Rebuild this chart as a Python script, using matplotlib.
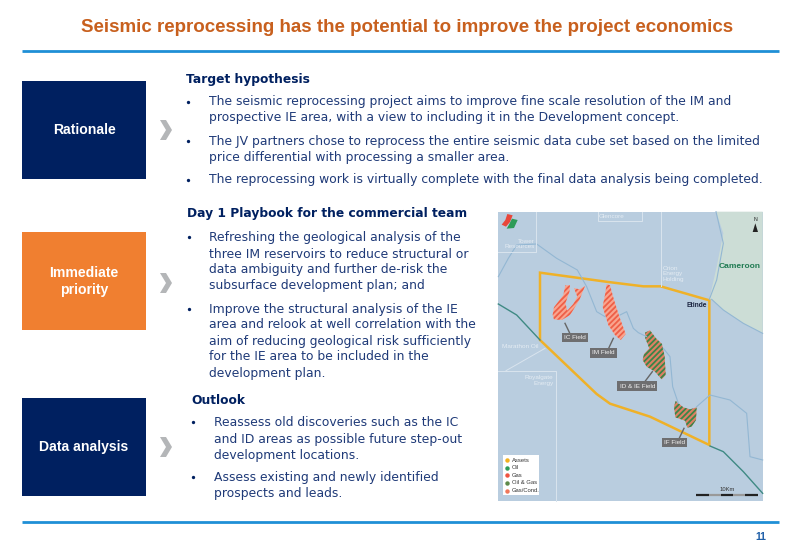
import matplotlib
matplotlib.use("Agg")
import matplotlib.pyplot as plt
from matplotlib.patches import Rectangle, Polygon

TITLE = "Seismic reprocessing has the potential to improve the project economics"
NAVY = "#002060"; ORANGE = "#F07F30"; TXT = "#1F3A78"; BLUE = "#1F8FD6"
boxes = [("Rationale", 22, 81, 124, 98, NAVY), ("Immediate\npriority", 22, 232, 124, 98, ORANGE),
         ("Data analysis", 22, 398, 124, 98, NAVY)]
headings = [("Target hypothesis", 186, 80), ("Day 1 Playbook for the commercial team", 187, 214), ("Outlook", 191, 400)]
bullets = [
    (186, 209, 102, "The seismic reprocessing project aims to improve fine scale resolution of the IM and"),
    (None, 209, 118, "prospective IE area, with a view to including it in the Development concept."),
    (186, 209, 141, "The JV partners chose to reprocess the entire seismic data cube set based on the limited"),
    (None, 209, 157, "price differential with processing a smaller area."),
    (186, 209, 180, "The reprocessing work is virtually complete with the final data analysis being completed."),
    (187, 209, 237, "Refreshing the geological analysis of the"),
    (None, 209, 254, "three IM reservoirs to reduce structural or"),
    (None, 209, 270, "data ambiguity and further de-risk the"),
    (None, 209, 286, "subsurface development plan; and"),
    (187, 209, 309, "Improve the structural analysis of the IE"),
    (None, 209, 325, "area and relook at well correlation with the"),
    (None, 209, 341, "aim of reducing geological risk sufficiently"),
    (None, 209, 357, "for the IE area to be included in the"),
    (None, 209, 373, "development plan."),
    (191, 214, 422, "Reassess old discoveries such as the IC"),
    (None, 214, 439, "and ID areas as possible future step-out"),
    (None, 214, 455, "development locations."),
    (191, 214, 477, "Assess existing and newly identified"),
    (None, 214, 494, "prospects and leads."),
]
chevron_y = [130, 283, 447]

# map shapes, in coordinates of the map picture
block = [(150, 218), (355, 246), (460, 259), (512, 259), (658, 301), (658, 735), (480, 650), (360, 611), (320, 582), (150, 420)]
ic_field = [(188, 345), (192, 322), (220, 285), (226, 256), (240, 256), (238, 276), (226, 310), (232, 332), (250, 312), (262, 290), (252, 264), (268, 268), (285, 258), (268, 300), (240, 345), (215, 360), (192, 358)]
im_field = [(350, 252), (360, 256), (372, 300), (388, 350), (407, 402), (392, 420), (375, 405), (355, 375), (338, 320), (345, 285)]
id_field = [(465, 398), (480, 391), (498, 415), (516, 432), (524, 470), (527, 525), (515, 538), (495, 515), (470, 500), (458, 480), (462, 462), (478, 445), (466, 415)]
if_field = [(552, 620), (557, 603), (580, 622), (600, 628), (620, 622), (618, 660), (605, 680), (592, 683), (585, 662), (556, 652)]
rivers = [
    [(25, 230), (55, 175), (80, 135), (140, 132), (200, 175), (262, 210), (290, 260), (320, 335), (345, 350)],
    [(390, 345), (410, 335), (430, 385), (445, 398), (470, 410)],
    [(520, 445), (540, 470), (548, 560), (565, 610)],
    [(620, 620), (660, 585), (720, 600), (770, 640), (780, 770), (818, 780)],
    [(658, 298), (680, 240), (700, 130), (678, 35)],
    [(665, 298), (700, 330), (760, 370), (818, 400)],
]
green_lines = [[(25, 312), (80, 345), (150, 420)], [(660, 738), (700, 755), (760, 815), (818, 880)]]
white_lines = [
    [(24, 157), (139, 157), (139, 35)], [(323, 35), (323, 64), (457, 64), (457, 35)],
    [(512, 35), (512, 259)], [(24, 512), (197, 512), (197, 902)], [(48, 512), (165, 445)],
]
map_labels = [("Glencore", 365, 50, "center"), ("Tower\nResources", 134, 132, "right"), ("Orion\nEnergy\nHolding", 517, 221, "left"),
              ("Marathon Oil", 145, 440, "right"), ("Royalgate\nEnergy", 190, 541, "right")]
field_tags = [("IC Field", 254, 413, 225, 370), ("IM Field", 341, 459, 370, 415), ("ID & IE Field", 442, 558, 487, 515), ("IF Field", 554, 727, 582, 685)]
legend_names = ["Assets", "Oil", "Gas", "Oil & Gas", "Gas/Cond."]
legend_colors = ["#F2B01E", "#2E9B57", "#EE5340", "#5E8A4A", "#F0775A"]
scale_segments = [(619, 656, "#222222"), (656, 693, "#999999"), (693, 730, "#222222"), (730, 766, "#999999"), (766, 803, "#222222")]

fig = plt.figure(figsize=(8, 5.54), dpi=100)
ax = fig.add_axes([0, 0, 1, 1])
ax.set_xlim(0, 800); ax.set_ylim(554, 0); ax.axis("off")

SANS = "Liberation Sans"; BODY = "DejaVu Sans"
ax.text(407, 27, TITLE, ha="center", va="center", fontsize=13.5, fontweight="bold", color="#C8601E", family=SANS)
for y in (50.5, 522):
    ax.plot([22, 779], [y, y], color=BLUE, lw=2, solid_capstyle="butt")
ax.text(761, 537, "11", ha="center", va="center", fontsize=7.5, fontweight="bold", color="#1F5FA8", family=SANS)

for label, x, y, w, h, c in boxes:
    ax.add_patch(Rectangle((x, y), w, h, fc=c, ec="none"))
    ax.text(x + w / 2, y + h / 2 + 0.5, label, ha="center", va="center", color="white", fontsize=10.1, fontweight="bold", family=SANS, linespacing=1.3)

for cy in chevron_y:
    cx = 160
    ax.add_patch(Polygon([(cx, cy - 10), (cx + 6, cy - 10), (cx + 12, cy), (cx + 6, cy + 10), (cx, cy + 10), (cx + 6, cy)], fc="#B4B6B8", ec="none"))

for t, x, y in headings:
    ax.text(x, y, t, va="center", ha="left", fontsize=8.82, fontweight="bold", color=NAVY, family=BODY)
for bx, x, y, t in bullets:
    ax.text(x, y, t, va="center", ha="left", fontsize=8.92, color=TXT, family=BODY)
    if bx is not None:
        ax.plot([bx + 2], [y], "o", ms=2.4, color=NAVY, mec="none")

# map
def M(p):
    return (490 + p[0] / 3, 200 + p[1] / 3)
def ML(pts):
    return [M(p) for p in pts]
def line(pts, **kw):
    q = ML(pts)
    ax.plot([a for a, _ in q], [b for _, b in q], **kw)

x0, y0 = M((24, 35)); x1, y1 = M((818, 902))
ax.add_patch(Rectangle((x0, y0), x1 - x0, y1 - y0, fc="#B9CDDF", ec="none"))
ax.add_patch(Polygon(ML([(678, 35), (700, 100), (680, 200), (658, 298), (665, 298), (700, 330), (760, 370), (818, 400), (818, 35)]), fc="#CCDDD6", ec="none"))
for r in rivers:
    line(r, color="#93B7D3", lw=0.8)
for w in white_lines:
    line(w, color="#D9E4EE", lw=0.7)
for g in green_lines:
    line(g, color="#3F8A84", lw=1.0)

plt.rcParams["hatch.linewidth"] = 1.3
for shape, fc, hc in [(ic_field, "#F9A58F", "#EE5F48"), (im_field, "#F9A58F", "#EE5F48"), (id_field, "#DD8064", "#3A8548"), (if_field, "#DD8064", "#3A8548")]:
    ax.add_patch(Polygon(ML(shape), fc=fc, ec=hc, lw=0, hatch="//////"))

ax.add_patch(Polygon(ML(block), fc="none", ec="#EFB128", lw=1.8, joinstyle="miter"))

for t, x, y, ha in map_labels:
    px, py = M((x, y))
    ax.text(px, py, t, ha=ha, va="center", fontsize=4.6, color="#E4ECF3", family=SANS, linespacing=1.1)
for t, x, y, lx, ly in field_tags:
    px, py = M((x, y))
    line([(lx, ly), (x + (lx - x) * 0.45, y - 10)], color="#666666", lw=1.0)
    ax.text(px, py, t, ha="center", va="center", fontsize=4.6, color="#F0F0F0", family=SANS,
            bbox=dict(boxstyle="square,pad=0.35", fc="#6E6E70", ec="none"))

px, py = M((748, 200))
ax.text(px, py, "Cameroon", ha="center", va="center", fontsize=6.0, fontweight="bold", color="#1F7A52", family=SANS)
px, py = M((621, 317))
ax.text(px, py, "Etinde", ha="center", va="center", fontsize=4.8, fontweight="bold", color="#1A2340", family=SANS)
px, py = M((796, 58))
ax.text(px, py, "N", ha="center", va="center", fontsize=3.8, color="#222222", family=SANS)
ax.add_patch(Polygon(ML([(796, 70), (804, 96), (788, 96)]), fc="#222222", ec="none"))

# logo
ax.add_patch(Polygon(ML([(52, 42), (68, 46), (60, 66), (48, 80), (35, 74), (46, 60)]), fc="#E8473A", ec="none"))
ax.add_patch(Polygon(ML([(66, 56), (83, 60), (72, 84), (50, 86), (58, 72)]), fc="#2E9B57", ec="none"))

# map legend
lx0, ly0 = M((38, 765)); lx1, ly1 = M((146, 885))
ax.add_patch(Rectangle((lx0, ly0), lx1 - lx0, ly1 - ly0, fc="white", ec="none"))
for i, (n, c) in enumerate(zip(legend_names, legend_colors)):
    px, py = M((51, 780 + i * 23))
    ax.plot([px], [py], "o", ms=3.2, color=c, mec="none")
    tx, ty = M((65, 780 + i * 23))
    ax.text(tx, ty, n, ha="left", va="center", fontsize=4.2, color="#333333", family=SANS)

for a, b, c in scale_segments:
    line([(a, 884), (b, 884)], color=c, lw=1.6, solid_capstyle="butt")
px, py = M((712, 869))
ax.text(px, py, "10Km", ha="center", va="center", fontsize=4.2, color="#333333", family=SANS)

fig.savefig("out.png", dpi=100)
